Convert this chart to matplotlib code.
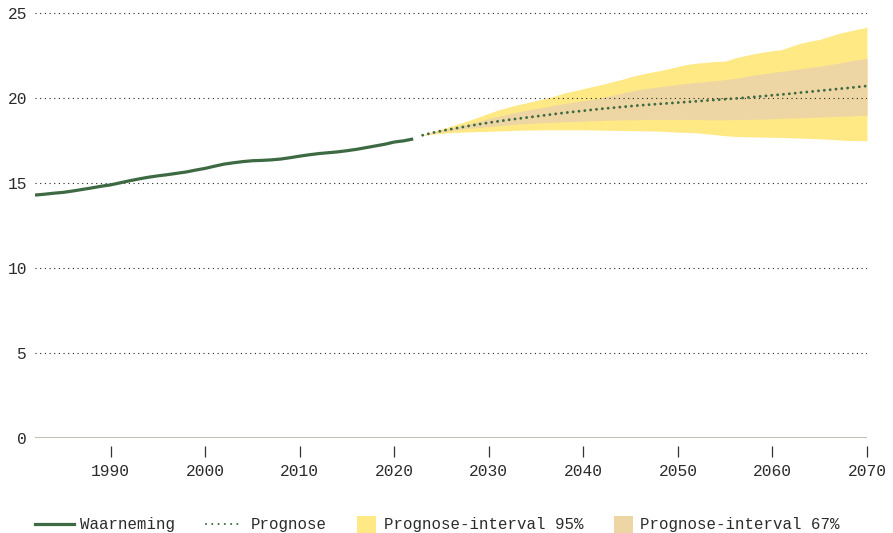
import matplotlib
matplotlib.use("Agg")
import matplotlib.pyplot as plt
from matplotlib.lines import Line2D
from matplotlib.patches import Rectangle

plt.rcParams['font.family'] = ['Liberation Mono', 'DejaVu Sans Mono']

# ---------------- data ----------------
obs_years = list(range(1982, 2023))
obs_values = [14.29, 14.34, 14.40, 14.45, 14.53, 14.62, 14.71, 14.81, 14.89, 15.01,
              15.13, 15.24, 15.34, 15.42, 15.49, 15.57, 15.65, 15.76, 15.86, 15.99,
              16.11, 16.19, 16.26, 16.31, 16.33, 16.36, 16.41, 16.49, 16.58, 16.66,
              16.73, 16.78, 16.83, 16.90, 16.98, 17.08, 17.18, 17.28, 17.41, 17.48,
              17.59]

prog_years = list(range(2023, 2071))
prog_median = [17.81, 17.95, 18.07, 18.17, 18.27, 18.37, 18.46, 18.55, 18.63, 18.71,
               18.78, 18.85, 18.92, 18.99, 19.06, 19.13, 19.19, 19.25, 19.31, 19.37,
               19.42, 19.47, 19.52, 19.57, 19.61, 19.65, 19.69, 19.73, 19.77, 19.81,
               19.85, 19.89, 19.93, 19.97, 20.01, 20.06, 20.11, 20.16, 20.21, 20.26,
               20.32, 20.37, 20.43, 20.48, 20.54, 20.59, 20.65, 20.71]
upper_95 = [17.83, 18.00, 18.18, 18.35, 18.52, 18.70, 18.90, 19.10, 19.30, 19.45,
            19.60, 19.72, 19.85, 19.98, 20.12, 20.30, 20.42, 20.55, 20.68, 20.80,
            20.95, 21.08, 21.25, 21.38, 21.50, 21.60, 21.72, 21.85, 21.98, 22.05,
            22.10, 22.15, 22.17, 22.35, 22.48, 22.60, 22.70, 22.78, 22.85, 23.05,
            23.22, 23.35, 23.45, 23.62, 23.80, 23.92, 24.05, 24.16]
upper_67 = [17.82, 17.96, 18.10, 18.23, 18.36, 18.50, 18.63, 18.80, 18.92, 19.05,
            19.17, 19.28, 19.38, 19.48, 19.58, 19.68, 19.76, 19.85, 19.93, 20.02,
            20.15, 20.27, 20.40, 20.50, 20.58, 20.65, 20.72, 20.80, 20.86, 20.92,
            20.97, 21.02, 21.08, 21.15, 21.25, 21.35, 21.42, 21.50, 21.58, 21.65,
            21.72, 21.80, 21.87, 21.95, 22.05, 22.15, 22.25, 22.33]
lower_67 = [17.81, 17.92, 18.00, 18.08, 18.15, 18.22, 18.27, 18.32, 18.37, 18.42,
            18.46, 18.50, 18.53, 18.56, 18.58, 18.60, 18.62, 18.64, 18.66, 18.68,
            18.70, 18.71, 18.72, 18.73, 18.74, 18.74, 18.74, 18.74, 18.74, 18.73,
            18.72, 18.72, 18.72, 18.73, 18.74, 18.75, 18.76, 18.78, 18.80, 18.82,
            18.84, 18.86, 18.88, 18.90, 18.92, 18.94, 18.96, 18.99]
lower_95 = [17.80, 17.87, 17.92, 17.96, 17.99, 18.01, 18.03, 18.04, 18.06, 18.08,
            18.10, 18.11, 18.12, 18.13, 18.13, 18.13, 18.13, 18.13, 18.12, 18.11,
            18.10, 18.09, 18.08, 18.07, 18.06, 18.05, 18.02, 17.99, 17.97, 17.95,
            17.90, 17.84, 17.78, 17.74, 17.72, 17.71, 17.70, 17.69, 17.68, 17.66,
            17.64, 17.62, 17.60, 17.57, 17.53, 17.50, 17.49, 17.49]

x_ticks = [1990, 2000, 2010, 2020, 2030, 2040, 2050, 2060, 2070]
y_ticks = [0, 5, 10, 15, 20, 25]
legend_labels = ['Waarneming', 'Prognose', 'Prognose-interval 95%', 'Prognose-interval 67%']

# ---------------- style ----------------
W, H = 893, 533
GREEN = '#3d6a43'
YELLOW = '#ffe985'
BEIGE = '#edd6a4'
TEXT = '#2b2b2b'
ZERO = '#b4b4a6'
FS = 11.7
FS_LEG = 11.3

fig = plt.figure(figsize=(W / 100, H / 100), dpi=100)
ax = fig.add_axes([35 / W, (H - 438) / H, 832 / W, (438 - 7.9) / H])

ax.fill_between(prog_years, lower_95, upper_95, color=YELLOW, lw=0, zorder=1)
ax.fill_between(prog_years, lower_67, upper_67, color=BEIGE, lw=0, zorder=1.1)
ax.plot(obs_years, obs_values, color=GREEN, lw=2.3, solid_capstyle='butt', zorder=3)
ax.plot(prog_years, prog_median, color=GREEN, lw=2.1, linestyle=(0, (0.01, 2.0)),
        dash_capstyle='round', zorder=3)
ax.axhline(0, color=ZERO, lw=1.2, zorder=2)

ax.set_xlim(1982, 2070)
ax.set_ylim(0, 25.3)
ax.set_xticks(x_ticks)
ax.set_yticks(y_ticks)

for s in ['top', 'right', 'left', 'bottom']:
    ax.spines[s].set_visible(False)
ax.spines['bottom'].set_position(('outward', 5.8))

ax.set_axisbelow('line')
ax.yaxis.grid(True, color='#222222', lw=0.8, linestyle=(0, (1, 3.2)))
ax.xaxis.grid(False)

ax.tick_params(axis='x', length=7.9, width=0.9, color='#333333', direction='out',
               pad=5.0, labelsize=FS, labelcolor=TEXT)
ax.tick_params(axis='y', length=0, pad=5.8, labelsize=FS, labelcolor=TEXT)

# ---------------- legend (manual, one row) ----------------
def fx(x):
    return x / W

def fy(y):
    return 1 - y / H

fig.canvas.draw()
renderer = fig.canvas.get_renderer()
x = 35
kinds = ['line', 'dots', 'patch95', 'patch67']
for kind, label in zip(kinds, legend_labels):
    if kind == 'line':
        fig.add_artist(Line2D([fx(x), fx(x + 39)], [fy(524), fy(524)], color=GREEN,
                              lw=2.3, transform=fig.transFigure))
        x += 39 + 6
    elif kind == 'dots':
        fig.add_artist(Line2D([fx(x + 1), fx(x + 38)], [fy(524), fy(524)], color=GREEN,
                              lw=1.5, linestyle=(0, (0.01, 3.0)), dash_capstyle='round',
                              transform=fig.transFigure))
        x += 38 + 8
    else:
        col = YELLOW if kind == 'patch95' else BEIGE
        fig.add_artist(Rectangle((fx(x), fy(533)), 19 / W, 17 / H, color=col, lw=0,
                                 transform=fig.transFigure))
        x += 19 + 8
    t = fig.text(fx(x), fy(529.3), label, fontsize=FS_LEG, color=TEXT,
                 ha='left', va='baseline')
    w = t.get_window_extent(renderer).width
    x += w + 30

fig.savefig('out.png', dpi=100)
